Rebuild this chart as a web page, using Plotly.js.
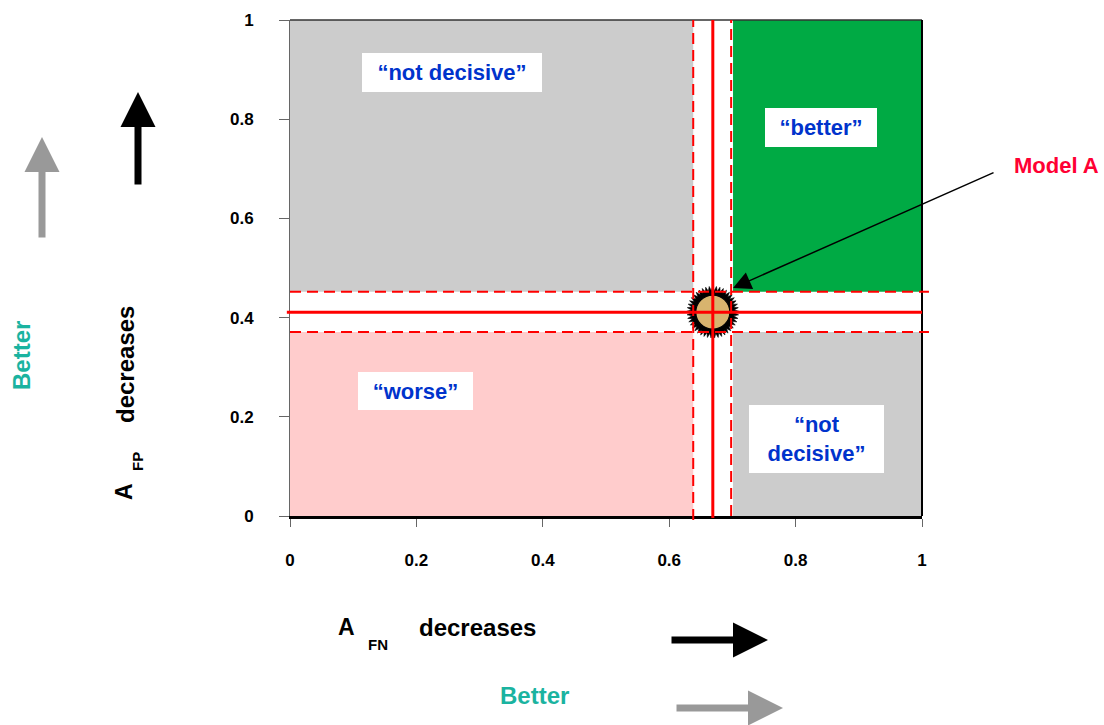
<!DOCTYPE html>
<html>
<head>
<meta charset="utf-8">
<script src="https://cdn.plot.ly/plotly-3.0.1.min.js"></script>
<style>html,body{margin:0;padding:0;background:#fff;}#chart{width:1104px;height:725px;}</style>
</head>
<body>
<div id="chart"></div>
<script>
// ---- data ----
const modelAX = [0.669];          // A_FN of Model A
const modelAY = [0.411];          // A_FP of Model A
const fnBand = [0.638, 0.698];    // uncertainty band on A_FN
const fpBand = [0.371, 0.452];    // uncertainty band on A_FP
const xTickVals = [0, 0.2, 0.4, 0.6, 0.8, 1];
const xTickText = ['0', '0.2', '0.4', '0.6', '0.8', '1'];
const yTickVals = [0, 0.2, 0.4, 0.6, 0.8, 1];
const yTickText = ['0', '0.2', '0.4', '0.6', '0.8', '1'];
const regionNames = ['\u201cnot decisive\u201d', '\u201cbetter\u201d', '\u201cworse\u201d', '\u201cnot<br>decisive\u201d'];
const regionLabelX = [0.256, 0.840, 0.199, 0.833];
const regionLabelY = [0.895, 0.783, 0.252, 0.155];
const regionBoxW = [180, 112, 115, 135];
const regionBoxH = [39, 39, 38, 68];
const modelLabel = 'Model A';

const FONT = '"Liberation Sans", Arial, sans-serif';
const RED = '#ff0000';
const DASH = '11px,6px';

// ---- regions ----
const shapes = [
  {type:'rect', xref:'x', yref:'y', x0:0, x1:fnBand[0], y0:fpBand[1], y1:1, fillcolor:'#cccccc', line:{width:0}, layer:'below'},
  {type:'rect', xref:'x', yref:'y', x0:fnBand[1]+0.003, x1:1, y0:fpBand[1], y1:1, fillcolor:'#00aa44', line:{width:0}, layer:'below'},
  {type:'rect', xref:'x', yref:'y', x0:0, x1:fnBand[0], y0:0, y1:fpBand[0], fillcolor:'#ffcccc', line:{width:0}, layer:'below'},
  {type:'rect', xref:'x', yref:'y', x0:fnBand[1]+0.003, x1:1, y0:0, y1:fpBand[0], fillcolor:'#cccccc', line:{width:0}, layer:'below'},
  // frame
  {type:'line', xref:'paper', yref:'paper', x0:0, x1:1, y0:1, y1:1, line:{color:'#333333', width:1.5}},
  {type:'line', xref:'paper', yref:'paper', x0:1, x1:1, y0:0, y1:1, line:{color:'#000000', width:2}},
  // dashed band lines (vertical)
  {type:'line', xref:'x', yref:'paper', x0:fnBand[0], x1:fnBand[0], y0:-0.008, y1:1, line:{color:RED, width:2, dash:DASH}},
  {type:'line', xref:'x', yref:'paper', x0:fnBand[1], x1:fnBand[1], y0:0, y1:1, line:{color:RED, width:2, dash:DASH}},
  // dashed band lines (horizontal)
  {type:'line', xref:'paper', yref:'y', x0:0, x1:1.011, y0:fpBand[1], y1:fpBand[1], line:{color:RED, width:2, dash:DASH}},
  {type:'line', xref:'paper', yref:'y', x0:0, x1:1.011, y0:fpBand[0], y1:fpBand[0], line:{color:RED, width:2, dash:DASH}},
  // solid lines through Model A
  {type:'line', xref:'x', yref:'paper', x0:modelAX[0], x1:modelAX[0], y0:-0.004, y1:1, line:{color:RED, width:3}},
  {type:'line', xref:'paper', yref:'y', x0:-0.005, x1:1, y0:modelAY[0], y1:modelAY[0], line:{color:RED, width:3}}
];

// ---- Model A marker (spiky burst) ----
const traces = [];
for (let a = 0; a < 72; a += 8) {
  traces.push({type:'scatter', mode:'markers', x:modelAX, y:modelAY, hoverinfo:'skip', showlegend:false, cliponaxis:false,
    marker:{symbol:'star', size:37, angle:a, color:'#000000', line:{color:'#000000', width:0.6}}});
}
traces.push({type:'scatter', mode:'markers', x:modelAX, y:modelAY, showlegend:false, cliponaxis:false,
  marker:{symbol:'circle', size:34, color:'#d8b46e', line:{color:'#000000', width:1.2}}});

// ---- annotations ----
const annotations = [];
function txt(px, py, t, size, color, angle) {
  annotations.push({xref:'paper', yref:'paper', x:(px-290)/632, y:(516-py)/496, xanchor:'center', yanchor:'middle',
    text:'<b>' + t + '</b>', textangle:angle || 0, showarrow:false, font:{family:FONT, size:size, color:color}});
}
function arrow(tipX, tipY, tailX, tailY, color) {
  annotations.push({xref:'paper', yref:'paper', x:(tipX-290)/632, y:(516-tipY)/496, text:'', showarrow:true,
    ax:tailX-tipX, ay:tailY-tipY, arrowhead:2, arrowsize:1, arrowwidth:7, arrowcolor:color, standoff:0});
}
regionNames.forEach((t, i) => {
  annotations.push({xref:'x', yref:'y', x:regionLabelX[i], y:regionLabelY[i], xanchor:'center', yanchor:'middle', text:t, showarrow:false,
    bgcolor:'#ffffff', borderpad:0, borderwidth:0, width:regionBoxW[i], height:regionBoxH[i],
    font:{family:FONT, size:22, color:'#0033cc', weight:'bold'}});
});
// Model A label and pointer
txt(1056, 165, modelLabel, 22, '#ff0033');
annotations.push({xref:'x', yref:'y', x:0.701, y:0.4597, text:'', showarrow:true, ax:262, ay:-116,
  arrowhead:2, arrowsize:2.4, arrowwidth:1.5, arrowcolor:'#000000', standoff:0});

// x-axis title pieces
txt(346, 627, 'A', 23, '#000');
txt(378, 644, 'FN', 15, '#000');
txt(477, 627, 'decreases', 24, '#000');
txt(534, 695, 'Better', 24, '#1ab3a0');
// y-axis title pieces (rotated)
txt(124, 492, 'A', 23, '#000', -90);
txt(137, 462, 'FP', 15, '#000', -90);
txt(125, 365, 'decreases', 24, '#000', -90);
txt(21, 356, 'Better', 24, '#1ab3a0', -90);

// big direction arrows
arrow(768, 640, 670, 640, '#000000');
arrow(783, 708, 675, 708, '#999999');
arrow(138, 92, 138, 186, '#000000');
arrow(42, 137, 42, 239, '#999999');

const layout = {
  width:1104, height:725,
  margin:{l:290, r:182, t:20, b:209, pad:0},
  paper_bgcolor:'#ffffff', plot_bgcolor:'#ffffff',
  showlegend:false,
  font:{family:FONT, color:'#000'},
  xaxis:{range:[0,1], tickvals:xTickVals, ticktext:xTickText, showgrid:false, zeroline:false,
    showline:true, linecolor:'#000000', linewidth:2.5, ticks:'outside', ticklen:8, tickcolor:'#666666', tickwidth:1,
    ticklabelstandoff:19, tickfont:{family:FONT, size:17, color:'#000', weight:'bold'}, fixedrange:true},
  yaxis:{range:[0,1], tickvals:yTickVals, ticktext:yTickText, showgrid:false, zeroline:false,
    showline:true, linecolor:'#666666', linewidth:1, ticks:'outside', ticklen:10, tickcolor:'#666666', tickwidth:1,
    ticklabelstandoff:22, tickfont:{family:FONT, size:17, color:'#000', weight:'bold'}, fixedrange:true},
  shapes:shapes,
  annotations:annotations
};

Plotly.newPlot('chart', traces, layout, {displayModeBar:false, staticPlot:true});
</script>
</body>
</html>
